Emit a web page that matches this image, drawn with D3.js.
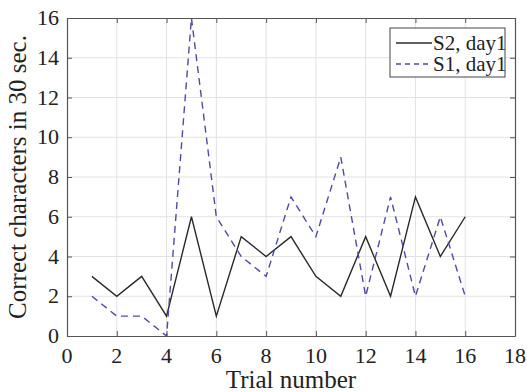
<!DOCTYPE html>
<html>
<head>
<meta charset="utf-8">
<script src="https://cdn.jsdelivr.net/npm/d3@7"></script>
</head>
<body style="margin:0">
<script>
const trials = d3.range(1, 17);
const s2Day1 = [3, 2, 3, 1, 6, 1, 5, 4, 5, 3, 2, 5, 2, 7, 4, 6];
const s1Day1 = [2, 1, 1, 0, 16, 6, 4, 3, 7, 5, 9, 2, 7, 2, 6, 2];
const xTicks = [0, 2, 4, 6, 8, 10, 12, 14, 16, 18];
const yTicks = [0, 2, 4, 6, 8, 10, 12, 14, 16];

const width = 527, height = 392;
const margin = { top: 18, right: 12, bottom: 56, left: 67 };
const serif = 'Liberation Serif';

const svg = d3.select('body').append('svg')
  .attr('width', width).attr('height', height);

const x = d3.scaleLinear().domain([0, 18]).range([margin.left, width - margin.right]);
const y = d3.scaleLinear().domain([0, 16]).range([height - margin.bottom, margin.top]);

// grid
svg.append('g').selectAll('line').data(xTicks.slice(1, -1)).enter().append('line')
  .attr('x1', d => x(d)).attr('x2', d => x(d))
  .attr('y1', y(0)).attr('y2', y(16))
  .attr('stroke', '#e2e2e2').attr('stroke-width', 1);
svg.append('g').selectAll('line').data(yTicks.slice(1, -1)).enter().append('line')
  .attr('x1', x(0)).attr('x2', x(18))
  .attr('y1', d => y(d)).attr('y2', d => y(d))
  .attr('stroke', '#e2e2e2').attr('stroke-width', 1);

// axis frame and inward ticks, no text from the axis generator
const tickLen = 5;
svg.append('g').attr('transform', `translate(0,${y(0)})`)
  .call(d3.axisBottom(x).tickValues(xTicks).tickSizeInner(-tickLen).tickSizeOuter(0).tickFormat(''));
svg.append('g').attr('transform', `translate(${x(0)},0)`)
  .call(d3.axisLeft(y).tickValues(yTicks).tickSizeInner(-tickLen).tickSizeOuter(0).tickFormat(''));
svg.append('g').attr('transform', `translate(0,${y(16)})`)
  .call(d3.axisTop(x).tickValues(xTicks).tickSizeInner(-tickLen).tickSizeOuter(0).tickFormat(''));
svg.append('g').attr('transform', `translate(${x(18)},0)`)
  .call(d3.axisRight(y).tickValues(yTicks).tickSizeInner(-tickLen).tickSizeOuter(0).tickFormat(''));
svg.selectAll('.domain').attr('stroke', '#555').attr('stroke-width', 1.2);
svg.selectAll('.tick line').attr('stroke', '#555');
svg.selectAll('.tick text').remove();

// tick labels as plain texts
xTicks.forEach(t => {
  svg.append('text')
    .attr('x', x(t)).attr('y', y(0) + 27)
    .attr('text-anchor', 'middle')
    .attr('font-family', serif).attr('font-size', 22).attr('fill', '#222')
    .text(t);
});
yTicks.forEach(t => {
  svg.append('text')
    .attr('x', x(0) - 8).attr('y', y(t) + 7)
    .attr('text-anchor', 'end')
    .attr('font-family', serif).attr('font-size', 22).attr('fill', '#222')
    .text(t);
});

// lines
const line = d3.line().x((d, i) => x(trials[i])).y(d => y(d));

svg.append('path').datum(s2Day1)
  .attr('d', line).attr('fill', 'none')
  .attr('stroke', '#2a2a2a').attr('stroke-width', 1.4);

svg.append('path').datum(s1Day1)
  .attr('d', line).attr('fill', 'none')
  .attr('stroke', '#4c4ca6').attr('stroke-width', 1.4)
  .attr('stroke-dasharray', '7,5');

// axis labels
svg.append('text')
  .attr('x', x(9)).attr('y', height - 4)
  .attr('text-anchor', 'middle')
  .attr('font-family', serif)
  .attr('font-size', 25).attr('fill', '#222')
  .text('Trial number');

svg.append('text')
  .attr('transform', `translate(26,${(y(0) + y(16)) / 2}) rotate(-90)`)
  .attr('text-anchor', 'middle')
  .attr('font-family', serif)
  .attr('font-size', 25).attr('fill', '#222')
  .text('Correct characters in 30 sec.');

// legend
const legend = svg.append('g').attr('transform', 'translate(390,28)');
legend.append('rect')
  .attr('width', 115).attr('height', 49)
  .attr('fill', '#fff').attr('stroke', '#444').attr('stroke-width', 1);

const legendItems = [
  { name: 'S2, day1', color: '#2a2a2a', dash: null },
  { name: 'S1, day1', color: '#4c4ca6', dash: '5,4' }
];
legendItems.forEach((d, i) => {
  const ly = 15 + i * 21;
  legend.append('line')
    .attr('x1', 6).attr('x2', 42).attr('y1', ly).attr('y2', ly)
    .attr('stroke', d.color).attr('stroke-width', 1.4)
    .attr('stroke-dasharray', d.dash);
  legend.append('text')
    .attr('x', 43).attr('y', ly + 7)
    .attr('font-family', serif)
    .attr('font-size', 21).attr('fill', '#222')
    .text(d.name);
});
</script>
</body>
</html>
